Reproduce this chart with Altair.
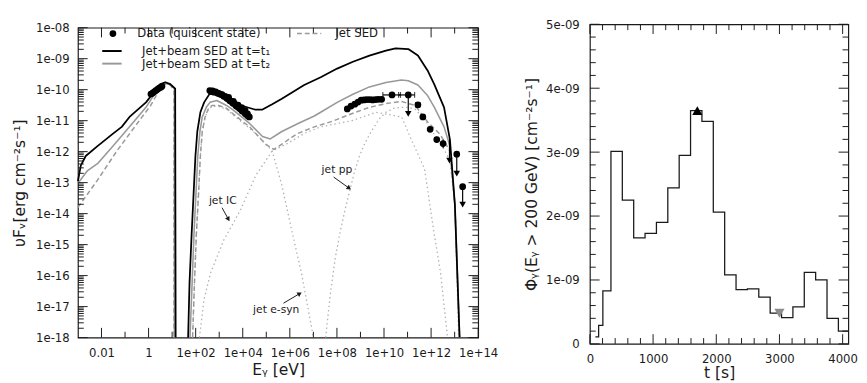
import altair as alt
import pandas as pd

FONT = "DejaVu Sans"
INK = "#1a1a1a"
GRAY = "#999999"
LIGHT = "#b0b0b0"

# ---------------- left panel: SED (log10 E[eV], log10 nuFnu[erg cm-2 s-1]) ----------------
t1_low_logE = [-3.00, -2.88, -2.67, -2.17, -1.51, -1.14, -0.81, -0.11, 0.30, 0.51, 0.71, 0.92, 1.13, 1.15]
t1_low_logF = [-12.95, -12.45, -12.14, -11.82, -11.42, -11.20, -10.88, -10.41, -10.01, -9.82, -9.76, -9.82, -9.97, -18.0]
t1_high_logE = [1.68, 1.74, 1.83, 1.91, 1.99, 2.07, 2.20, 2.36, 2.57, 2.78, 3.31, 3.93, 4.51, 4.84, 5.25, 5.66,
                6.61, 7.31, 8.01, 8.68, 9.38, 10.08, 10.49, 11.03, 11.44, 11.85, 12.14, 12.55, 12.80, 13.01, 13.21]
t1_high_logF = [-18.0, -16.21, -14.65, -13.39, -12.14, -11.35, -10.73, -10.41, -10.16, -10.04, -10.26, -10.51, -10.64,
                -10.64, -10.47, -10.29, -9.85, -9.60, -9.32, -9.10, -8.90, -8.74, -8.67, -8.69, -8.90, -9.38, -9.84,
                -10.57, -11.61, -13.71, -18.0]

t2_low_logE = [-3.00, -2.59, -2.17, -1.51, -0.81, -0.11, 0.42, 0.63, 0.92, 1.10, 1.10]
t2_low_logF = [-13.02, -12.61, -12.39, -11.82, -11.20, -10.57, -9.94, -9.79, -9.83, -9.94, -18.0]
t2_high_logE = [1.76, 1.85, 1.93, 2.01, 2.09, 2.18, 2.28, 2.45, 2.61, 2.90, 3.31, 3.60, 4.29, 4.84, 5.17, 5.66, 6.35,
                7.04, 7.31, 8.01, 8.68, 9.38, 10.08, 10.74, 11.03, 11.44, 11.85, 12.14, 12.55, 12.80, 13.01, 13.21]
t2_high_logF = [-18.0, -16.21, -14.65, -13.39, -12.14, -11.35, -10.88, -10.57, -10.41, -10.35, -10.51, -10.66, -11.09,
                -11.51, -11.59, -11.35, -11.09, -10.85, -10.73, -10.41, -10.15, -9.91, -9.77, -9.69, -9.71, -9.85,
                -10.19, -10.57, -11.20, -11.82, -13.71, -18.0]

jet_low_logE = [-3.00, -2.17, -1.35, -0.52, 0.09, 0.51, 0.71, 0.92, 1.08, 1.08]
jet_low_logF = [-13.80, -12.92, -11.98, -11.13, -10.51, -9.94, -9.82, -9.85, -10.01, -18.0]
jet_high_logE = [1.87, 1.95, 2.03, 2.12, 2.20, 2.28, 2.40, 2.53, 2.69, 2.98, 3.31, 3.60, 4.29, 4.67, 4.97, 5.32, 5.66,
                 6.08, 6.35, 7.04, 7.73, 8.68, 9.38, 10.08, 10.74, 11.32, 11.85, 12.39, 12.80, 13.01, 13.21]
jet_high_logF = [-18.0, -16.21, -14.65, -13.39, -12.14, -11.35, -10.88, -10.63, -10.51, -10.51, -10.60, -10.79, -11.20,
                 -11.51, -11.76, -11.93, -11.76, -11.54, -11.41, -11.20, -11.04, -10.76, -10.57, -10.45, -10.38, -10.51,
                 -11.04, -11.45, -11.98, -13.71, -18.0]

esyn_logE = [1.87, 1.95, 2.03, 2.12, 2.20, 2.28, 2.40, 2.53, 2.69, 2.98, 3.31, 3.60, 4.29, 4.70, 5.25, 5.66, 6.08,
             6.49, 6.77, 6.97, 7.00]
esyn_logF = [-18.0, -16.21, -14.65, -13.39, -12.14, -11.35, -10.90, -10.66, -10.54, -10.54, -10.63, -10.82, -11.25,
             -11.53, -11.98, -13.08, -14.54, -15.90, -17.05, -17.87, -18.0]
ic_logE = [2.16, 2.36, 2.64, 3.19, 3.88, 4.56, 5.25, 5.94, 6.62, 7.31, 8.69, 9.65, 10.75, 11.16, 11.72, 12.13, 12.40,
           12.68, 12.70]
ic_logF = [-18.0, -16.75, -15.90, -14.86, -13.92, -12.76, -11.98, -11.72, -11.41, -11.20, -10.99, -10.73, -10.88,
           -11.61, -12.55, -14.65, -15.90, -17.87, -18.0]
pp_logE = [7.52, 7.73, 7.93, 8.14, 8.35, 8.55, 8.76, 8.96, 9.17, 9.38, 9.79, 10.08, 10.41, 10.74, 11.03, 11.32, 11.56,
           11.85, 12.14, 12.47, 12.80, 13.01, 13.17]
pp_logF = [-18.0, -16.53, -15.43, -14.58, -13.86, -13.24, -12.61, -12.14, -11.76, -11.45, -10.95, -10.73, -10.60,
           -10.57, -10.57, -10.63, -10.82, -11.10, -11.45, -11.82, -12.29, -13.71, -18.0]

# observed SED (quiescent state)
opt_logE = [0.10, 0.17, 0.24, 0.31, 0.38, 0.45, 0.52, 0.57]
opt_logF = [-10.14, -10.11, -10.07, -10.03, -9.99, -9.95, -9.92, -9.89]
xray_logE = [2.60, 2.66, 2.72, 2.78, 2.85, 2.92, 2.98, 3.05, 3.12, 3.19, 3.25, 3.32, 3.39, 3.45, 3.52, 3.58, 3.65,
             3.71, 3.78, 3.85, 3.91, 3.97, 4.04, 4.10, 4.16, 4.22, 4.28, 3.40, 3.60, 3.80, 3.95, 4.10, 4.20]
xray_logF = [-10.03, -10.06, -10.04, -10.08, -10.07, -10.11, -10.12, -10.15, -10.16, -10.21, -10.22, -10.28, -10.30,
             -10.36, -10.38, -10.44, -10.45, -10.52, -10.55, -10.60, -10.62, -10.69, -10.70, -10.77, -10.80, -10.85,
             -10.88, -10.25, -10.38, -10.50, -10.58, -10.68, -10.78]
gam_logE = [8.44, 8.60, 8.76, 8.90, 9.03, 9.15, 9.27, 9.40, 9.52, 9.64, 9.76, 9.90, 10.34, 11.03, 11.44, 11.65, 11.96,
            12.24, 12.51, 13.09, 13.34]
gam_logF = [-10.62, -10.53, -10.47, -10.40, -10.34, -10.33, -10.32, -10.32, -10.33, -10.32, -10.31, -10.31, -10.17,
            -10.17, -10.49, -10.88, -11.28, -11.61, -11.74, -12.08, -13.13]
herr_lo_logE = [9.95, 10.62, 11.35]
herr_hi_logE = [10.70, 11.30, 11.52]
herr_logF = [-10.17, -10.17, -10.49]
verr_logE = [11.65, 11.96, 12.24, 12.51]
verr_lo_logF = [-10.95, -11.35, -11.70, -11.88]
verr_hi_logF = [-10.82, -11.21, -11.52, -11.62]
ul_logE = [11.03, 12.78, 13.09, 13.34]
ul_top_logF = [-10.17, -11.61, -12.08, -13.13]
ul_end_logF = [-10.78, -12.29, -12.71, -13.71]

# annotations
ann_text = ["jet IC", "jet e-syn", "jet pp"]
ann_logE = [3.15, 5.42, 8.00]
ann_logF = [-13.61, -17.12, -12.61]
arr_from_logE = [3.12, 5.73, 7.86]
arr_from_logF = [-13.81, -16.89, -12.82]
arr_to_logE = [3.39, 6.42, 8.52]
arr_to_logF = [-14.18, -16.58, -13.18]
arr_angle = [150, 59, 126]

data_name = ["Data (quiscent state)"]
model_names = ["Jet+beam SED at t=t\u2081", "Jet+beam SED at t=t\u2082"]
jet_name = ["Jet SED"]

# ---------------- right panel: light curve ----------------
bin_start = [87, 138, 205, 333, 513, 693, 873, 1053, 1233, 1413, 1593, 1773, 1953, 2133, 2313, 2493, 2673, 2853,
             3033, 3213, 3393, 3573, 3753, 3933]
flux_e9 = [0.11, 0.29, 0.83, 3.01, 2.25, 1.66, 1.73, 1.90, 2.44, 2.95, 3.65, 3.48, 2.06, 1.08, 0.85, 0.86, 0.73,
           0.48, 0.41, 0.58, 1.12, 1.00, 0.40, 0.20]
t_end = 4090
mark_t = [1700, 3000]
mark_flux_e9 = [3.65, 0.48]
leg3_names = ["t\u2081= 1700 s", "t\u2082= 3000 s"]

# ---------------- helpers ----------------
def curve(segments):
    rows = []
    for s, (le, lf) in enumerate(segments):
        for i, (a, b) in enumerate(zip(le, lf)):
            rows.append({"E": 10.0 ** a, "F": 10.0 ** b, "seg": s, "i": i})
    return pd.DataFrame(rows)


def pts(le, lf):
    return pd.DataFrame({"E": [10.0 ** a for a in le], "F": [10.0 ** b for b in lf]})


W1, H1 = 412, 319
W2, H2 = 266, 329
MAJ, MIN = 10, 6

xs1 = alt.Scale(type="log", domain=[1e-3, 1e14], nice=False)
ys1 = alt.Scale(type="log", domain=[1e-18, 1e-8], nice=False)
xs2 = alt.Scale(type="linear", domain=[0, t_end], nice=False, zero=False)
ys2 = alt.Scale(type="linear", domain=[0, 5e-9], nice=False)

x1_major = [10.0 ** k for k in range(-2, 15, 2)]
x1_minor = [10.0 ** k for k in range(-1, 14, 2)]
y1_major = [10.0 ** k for k in range(-18, -7)]
y1_minor = [m * 10.0 ** k for k in range(-18, -8) for m in range(2, 10)]
x2_major = [0, 1000, 2000, 3000, 4000]
x2_minor = [t for t in range(200, 4001, 200) if t % 1000]
y2_major = [k * 1e-9 for k in range(0, 6)]
y2_minor = [k * 2e-10 for k in range(1, 25) if k % 5]


def enc1(**kw):
    return dict(x=alt.X("E:Q", scale=xs1, axis=None), y=alt.Y("F:Q", scale=ys1, axis=None), **kw)


def tick_layers(xf, yf, xscale, yscale, xmaj, xmin, ymaj, ymin, W, H):
    """Inward ticks on all four frame edges, placed through the panel's own scales."""
    out = []
    for vals, L in [(ymaj, MAJ), (ymin, MIN)]:
        df = pd.DataFrame({yf: vals})
        for a, b in [(0, L), (W, W - L)]:
            out.append(alt.Chart(df).mark_rule(color=INK, strokeWidth=1).encode(
                y=alt.Y(f"{yf}:Q", scale=yscale, axis=None), x=alt.value(a), x2=alt.value(b)))
    for vals, L in [(xmaj, MAJ), (xmin, MIN)]:
        df = pd.DataFrame({xf: vals})
        for a, b in [(H, H - L), (0, L)]:
            out.append(alt.Chart(df).mark_rule(color=INK, strokeWidth=1).encode(
                x=alt.X(f"{xf}:Q", scale=xscale, axis=None), y=alt.value(a), y2=alt.value(b)))
    return out


def legend(x, y, offset, **kw):
    return alt.Legend(orient="none", legendX=x, legendY=y, title=None, labelFont=FONT, labelFontSize=12,
                      labelColor=INK, labelOffset=offset, padding=0, **kw)


# ---------------- left panel layers ----------------
line_specs = [
    (curve([(esyn_logE, esyn_logF)]), LIGHT, 1.3, [1.5, 3]),
    (curve([(ic_logE, ic_logF)]), LIGHT, 1.3, [1.5, 3]),
    (curve([(pp_logE, pp_logF)]), LIGHT, 1.3, [1.5, 3]),
    (curve([(jet_low_logE, jet_low_logF), (jet_high_logE, jet_high_logF)]), GRAY, 1.5, [5, 3]),
    (curve([(t2_low_logE, t2_low_logF), (t2_high_logE, t2_high_logF)]), GRAY, 1.6, None),
    (curve([(t1_low_logE, t1_low_logF), (t1_high_logE, t1_high_logF)]), "#000000", 1.8, None),
]
left_layers = []
for df, col, wd, dash in line_specs:
    kw = dict(color=col, strokeWidth=wd, strokeJoin="round")
    if dash:
        kw["strokeDash"] = dash
    left_layers.append(alt.Chart(df).mark_line(**kw).encode(**enc1(detail="seg:N", order="i:Q")))

data_df = pts(opt_logE + xray_logE + gam_logE, opt_logF + xray_logF + gam_logF)
left_layers.append(alt.Chart(data_df).mark_circle(color="#000000", size=48, opacity=1).encode(**enc1()))

herr_df = pd.DataFrame({"E": [10.0 ** a for a in herr_lo_logE], "E2": [10.0 ** a for a in herr_hi_logE],
                        "F": [10.0 ** b for b in herr_logF]})
left_layers.append(alt.Chart(herr_df).mark_rule(color="#000000", strokeWidth=1.2).encode(**enc1(x2="E2:Q")))
hcap_df = pd.DataFrame({"E": [10.0 ** a for a in herr_lo_logE + herr_hi_logE],
                        "F": [10.0 ** b for b in herr_logF + herr_logF]})
left_layers.append(alt.Chart(hcap_df).mark_tick(color="#000000", orient="vertical", size=6, thickness=1.2)
                   .encode(**enc1()))

verr_df = pd.DataFrame({"E": [10.0 ** a for a in verr_logE], "F": [10.0 ** b for b in verr_lo_logF],
                        "F2": [10.0 ** b for b in verr_hi_logF]})
left_layers.append(alt.Chart(verr_df).mark_rule(color="#000000", strokeWidth=1.2).encode(**enc1(y2="F2:Q")))

ul_df = pd.DataFrame({"E": [10.0 ** a for a in ul_logE], "F": [10.0 ** b for b in ul_top_logF],
                      "F2": [10.0 ** b for b in ul_end_logF]})
left_layers.append(alt.Chart(ul_df).mark_rule(color="#000000", strokeWidth=1.2).encode(**enc1(y2="F2:Q")))
ulh_df = pts(ul_logE, ul_end_logF)
left_layers.append(alt.Chart(ulh_df).mark_point(shape="triangle-down", filled=True, color="#000000", size=45,
                                                opacity=1).encode(**enc1()))

ann_df = pd.DataFrame({"E": [10.0 ** a for a in ann_logE], "F": [10.0 ** b for b in ann_logF], "label": ann_text})
left_layers.append(alt.Chart(ann_df).mark_text(font=FONT, fontSize=11, color=INK).encode(**enc1(text="label:N")))
arr_df = pd.DataFrame({"E": [10.0 ** a for a in arr_from_logE], "F": [10.0 ** b for b in arr_from_logF],
                       "E2": [10.0 ** a for a in arr_to_logE], "F2": [10.0 ** b for b in arr_to_logF]})
left_layers.append(alt.Chart(arr_df).mark_rule(color=INK, strokeWidth=1).encode(**enc1(x2="E2:Q", y2="F2:Q")))
head_df = pd.DataFrame({"E": [10.0 ** a for a in arr_to_logE], "F": [10.0 ** b for b in arr_to_logF],
                        "ang": arr_angle})
left_layers.append(alt.Chart(head_df).mark_point(shape="triangle-up", filled=True, color=INK, size=28,
                                                 opacity=1).encode(**enc1(angle=alt.Angle("ang:Q", scale=None))))

# legends (legend-only layers: no rows are drawn)
LA = legend(30, 0, 19, symbolType="circle", symbolSize=48, symbolStrokeWidth=0)
legA_df = pd.DataFrame({"d": data_name, "E": [1.0], "F": [1e-10]})
left_layers.append(alt.Chart(legA_df).transform_filter("false").mark_point(filled=True, opacity=1).encode(**enc1(
    fill=alt.Fill("d:N", scale=alt.Scale(domain=data_name, range=["#000000"]), legend=LA))))

LB = legend(29, 18, 25, symbolType="M-2,0H2", symbolSize=100, symbolStrokeWidth=2, rowPadding=1)
legB_df = pd.DataFrame({"m": model_names, "E": [1.0, 1.0], "F": [1e-10, 1e-10]})
left_layers.append(alt.Chart(legB_df).transform_filter("false").mark_line(strokeWidth=2).encode(**enc1(
    stroke=alt.Stroke("m:N", scale=alt.Scale(domain=model_names, range=["#000000", GRAY]), legend=LB))))

LC = legend(232, 0, 21, symbolType="M-2.5,0H2.5", symbolSize=100, symbolStrokeWidth=1.5, symbolStrokeColor=GRAY)
legC_df = pd.DataFrame({"j": jet_name, "E": [1.0], "F": [1e-10]})
left_layers.append(alt.Chart(legC_df).transform_filter("false").mark_line(color=GRAY, strokeWidth=1.5).encode(
    **enc1(strokeDash=alt.StrokeDash("j:N", scale=alt.Scale(domain=jet_name, range=[[5, 3]]), legend=LC))))

# frame ticks
left_layers += tick_layers("E", "F", xs1, ys1, x1_major, x1_minor, y1_major, y1_minor, W1, H1)

# labelled axes (carrier layer without rows)
carrier1 = pd.DataFrame({"E": [1.0], "F": [1e-10]})
lab_x1 = alt.Axis(orient="bottom", values=x1_major, ticks=False, domain=False, grid=False, labels=True,
                  labelPadding=11, labelFlush=False, labelOverlap=False,
                  labelExpr="round(log(datum.value)/LN10) == -2 ? '0.01' : round(log(datum.value)/LN10) == 0 ? '1' : "
                            "'1e+' + (round(log(datum.value)/LN10) < 10 ? '0' : '') + round(log(datum.value)/LN10)",
                  title="E\u1d67 [eV]", titlePadding=3)
lab_y1 = alt.Axis(orient="left", values=y1_major, ticks=False, domain=False, grid=False, labels=True,
                  labelPadding=9, labelOverlap=False,
                  labelExpr="'1e-' + (round(-log(datum.value)/LN10) < 10 ? '0' : '') + round(-log(datum.value)/LN10)",
                  title="\u03c5F\u1d65[erg cm\u207b\u00b2s\u207b\u00b9]", titlePadding=8)
left_layers.append(alt.Chart(carrier1).transform_filter("false").mark_point(opacity=0).encode(
    x=alt.X("E:Q", scale=xs1, axis=lab_x1), y=alt.Y("F:Q", scale=ys1, axis=lab_y1)))

left = alt.layer(*left_layers).resolve_axis(x="independent", y="independent").properties(width=W1, height=H1)

# ---------------- right panel layers ----------------
def enc2(**kw):
    return dict(x=alt.X("t:Q", scale=xs2, axis=None), y=alt.Y("f:Q", scale=ys2, axis=None), **kw)


hist_df = pd.DataFrame({"t": bin_start + [t_end], "f": [v * 1e-9 for v in flux_e9 + flux_e9[-1:]]})
right_layers = [alt.Chart(hist_df).mark_line(interpolate="step-after", color=INK, strokeWidth=1.3).encode(**enc2())]
mk_df = pd.DataFrame({"t": mark_t, "f": [v * 1e-9 for v in mark_flux_e9], "s": leg3_names})
right_layers.append(alt.Chart(mk_df).mark_point(filled=True, size=110, opacity=1, strokeWidth=0).encode(**enc2(
    fill=alt.Fill("s:N", scale=alt.Scale(domain=leg3_names, range=["#000000", "#8c8c8c"]), legend=None),
    shape=alt.Shape("s:N", scale=alt.Scale(domain=leg3_names, range=["triangle-up", "triangle-down"]), legend=None),
)))
L3 = alt.Legend(orient="none", legendX=142, legendY=33, title=None, labelFont=FONT, labelFontSize=13,
                labelColor=INK, labelOffset=24, rowPadding=3, symbolSize=110, symbolStrokeWidth=0, padding=0)
leg3_df = pd.DataFrame({"s": leg3_names, "t": [0, 0], "f": [0.0, 0.0]})
right_layers.append(alt.Chart(leg3_df).transform_filter("false").mark_point(filled=True, opacity=1).encode(**enc2(
    fill=alt.Fill("s:N", scale=alt.Scale(domain=leg3_names, range=["#000000", "#8c8c8c"]), legend=L3),
    shape=alt.Shape("s:N", scale=alt.Scale(domain=leg3_names, range=["triangle-up", "triangle-down"]), legend=L3),
)))

right_layers += tick_layers("t", "f", xs2, ys2, x2_major, x2_minor, y2_major, y2_minor, W2, H2)

carrier2 = pd.DataFrame({"t": [0], "f": [0.0]})
lab_x2 = alt.Axis(orient="bottom", values=x2_major, ticks=False, domain=False, grid=False, labels=True,
                  labelPadding=10, labelFlush=False, labelOverlap=False, format="d", title="t [s]", titlePadding=1)
lab_y2 = alt.Axis(orient="left", values=y2_major, ticks=False, domain=False, grid=False, labels=True,
                  labelPadding=11, labelOverlap=False,
                  labelExpr="datum.value == 0 ? '0' : round(datum.value * 1e9) + 'e-09'",
                  title="\u03a6\u1d67(E\u1d67 > 200 GeV) [cm\u207b\u00b2s\u207b\u00b9]", titlePadding=6)
right_layers.append(alt.Chart(carrier2).transform_filter("false").mark_point(opacity=0).encode(
    x=alt.X("t:Q", scale=xs2, axis=lab_x2), y=alt.Y("f:Q", scale=ys2, axis=lab_y2)))

right = alt.layer(*right_layers).resolve_axis(x="independent", y="independent").properties(width=W2, height=H2)

chart = alt.hconcat(left, right, spacing=25, center=True).resolve_scale(
    fill="independent", stroke="independent", shape="independent", size="independent", strokeDash="independent"
).properties(
    padding={"left": 3, "top": 4, "right": 0, "bottom": 0}, background="white"
).configure_view(stroke=INK, strokeWidth=1.2).configure_axis(
    labelFont=FONT, labelFontSize=12, labelColor=INK, titleFont=FONT, titleFontSize=16, titleFontWeight="normal",
    titleColor=INK
)

chart.save("out.html", embed_options={"renderer": "svg", "actions": False})
